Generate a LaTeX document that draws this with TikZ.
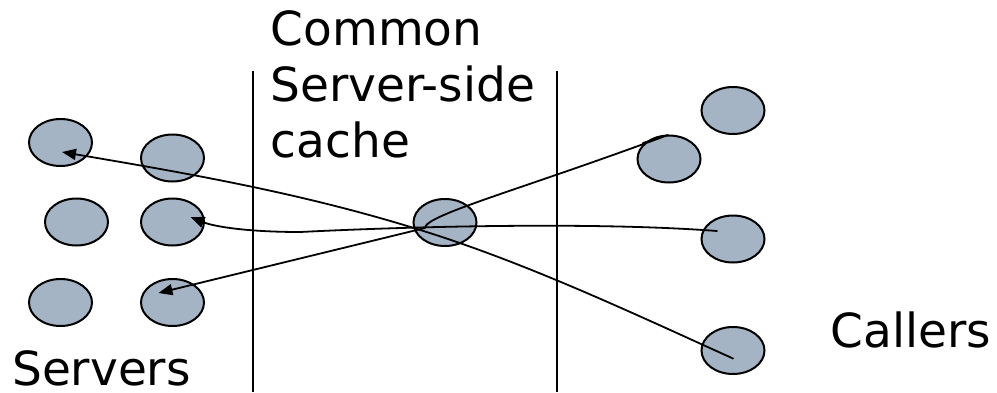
\documentclass[tikz,border=0pt]{standalone}
\usepackage{fontspec}
\setmainfont{DejaVu Sans}
\usetikzlibrary{shapes.geometric,arrows.meta,calc}
\definecolor{hostfill}{RGB}{164,180,196}
\tikzset{
  host/.style={ellipse, draw=black, line width=2pt, fill=hostfill,
               minimum width=63pt, minimum height=47pt, inner sep=0pt},
  link/.style={line width=1.8pt, line join=round, line cap=round},
  tipped/.style={-{Triangle[length=14pt,width=11pt]}},
  lbl/.style={anchor=base west, inner sep=0pt, text depth=0pt,
              font=\fontsize{47}{56}\selectfont},
  divider/.style={line width=1.8pt}
}
\begin{document}
\begin{tikzpicture}[x=1pt,y=-1pt]
  \useasboundingbox (0,0) rectangle (997,392);

  % region dividers
  \coordinate (ltop) at (253,71);  \coordinate (lbot) at (253,392);
  \coordinate (rtop) at (557,71);  \coordinate (rbot) at (557,392);
  \draw[divider] (ltop) -- (lbot);
  \draw[divider] (rtop) -- (rbot);

  % servers
  \node[host] (s1) at (60.5,142.5) {};
  \node[host] (s2) at (172.5,158) {};
  \node[host] (s3) at (76.5,222) {};
  \node[host] (s4) at (172.5,222) {};
  \node[host] (s5) at (60.5,302.5) {};
  \node[host] (s6) at (172.5,302.5) {};

  % shared cache
  \node[host] (cache) at (445,222.5) {};

  % callers
  \node[host] (c1) at (733,110.5) {};
  \node[host] (c2) at (669,159) {};
  \node[host] (c3) at (733,239) {};
  \node[host] (c4) at (733,350.5) {};

  % labels
  \node[lbl] (t1) at (270.5,45) {Common};
  \node[lbl] (t2) at (270.5,101) {Server-side};
  \node[lbl] (t3) at (270.5,157) {cache};
  \node[lbl] (tservers) at (12,385) {Servers};
  \node[lbl] (tcallers) at (830.5,347) {Callers};

  % end points of the request paths
  \coordinate (a0) at ($(c4)+(0,8)$);
  \coordinate (a1) at ($(s1)+(1.5,9.5)$);
  \coordinate (b0) at ($(c3)+(-16,-8)$);
  \coordinate (b1) at ($(s4)+(18,-5)$);
  \coordinate (c0) at ($(c2)+(-26,-16)$);
  \coordinate (c0b) at ($(c2)+(-1,-24)$);
  \coordinate (c1e) at ($(s6)+(-14,-9.5)$);

  % caller -> cache -> server paths
  \draw[link,tipped] (a0) .. controls (637,315) and (541,270) .. ($(cache)+(0,15.5)$)
        .. controls (317,195.3) and (190,173.8) .. (a1);
  \draw[link,tipped] (b0) .. controls (600,222) and (420,226) .. (300,232)
        .. controls (250,232) and (215,227) .. (b1);
  \draw[link,tipped] (c0) -- (c0b) .. controls (520,190) and (425,215) .. ($(cache)+(-20,5.5)$)
        -- (c1e);
\end{tikzpicture}
\end{document}
